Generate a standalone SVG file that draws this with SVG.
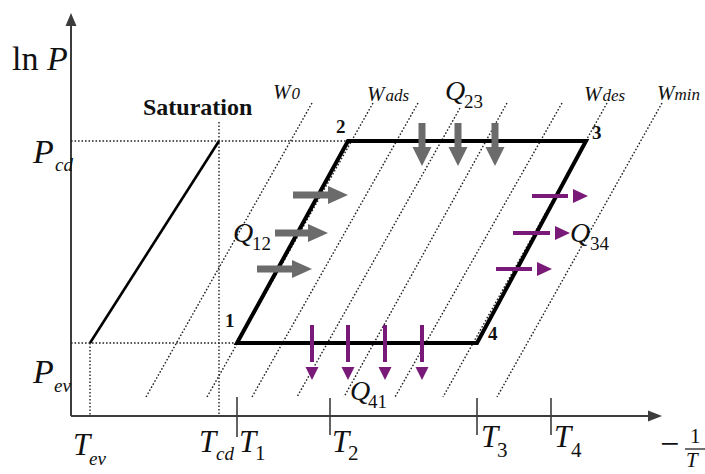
<svg xmlns="http://www.w3.org/2000/svg" width="705" height="474" viewBox="0 0 705 474">
<defs>
<style>
text{font-family:"Liberation Serif","Times New Roman",serif;fill:#111}
.it{font-style:italic}
.big{font-size:34px}
.tt{font-size:31px;font-style:italic}
.sub{font-size:19px}
.num{font-size:21px}
.w{font-size:21px;font-style:italic}
.ws{font-size:17px}
.q{font-size:28px;font-style:italic}
.qs{font-size:19px}
.pt{font-size:19px;font-weight:bold}
.axis{stroke:#3c3c3c;stroke-width:2;fill:none}
.dot{stroke:#222;stroke-width:1.4;stroke-dasharray:1.6 1.9;fill:none}
.cyc{stroke:#000;stroke-width:4;fill:none;stroke-linejoin:miter}
.sat{stroke:#000;stroke-width:2.6}
.tick{stroke:#3c3c3c;stroke-width:1.6}
.gs{stroke:#6b6b6b;stroke-width:7}
.gh{fill:#6b6b6b}
.ps{stroke:#7a1a78;stroke-width:4}
.ph{fill:#7a1a78}
</style>
</defs>
<rect width="705" height="474" fill="#fff"/>

<g id="axes">
<line class="axis" x1="71" y1="416" x2="71" y2="24"/>
<polygon points="71,13 65.5,26 76.5,26" fill="#3c3c3c"/>
<line class="axis" x1="71" y1="416" x2="650" y2="416"/>
<polygon points="662,416 648,410.5 648,421.5" fill="#3c3c3c"/>
<line class="tick" x1="237" y1="397" x2="237" y2="437"/>
<line class="tick" x1="330" y1="398" x2="330" y2="435"/>
<line class="tick" x1="477" y1="398" x2="477" y2="435"/>
<line class="tick" x1="551" y1="398" x2="551" y2="435"/>
</g>

<g id="guides">
<line class="dot" x1="71" y1="141" x2="348" y2="141"/>
<line class="dot" x1="71" y1="343" x2="237" y2="343"/>
<line class="dot" x1="90" y1="343" x2="90" y2="416"/>
<line class="dot" x1="219" y1="122" x2="219" y2="416"/>
</g>

<g id="isosteres">
<line class="dot" x1="312" y1="103" x2="146" y2="397"/>
<line class="dot" x1="373" y1="103" x2="207" y2="397"/>
<line class="dot" x1="418" y1="103" x2="252" y2="397"/>
<line class="dot" x1="460" y1="108" x2="297" y2="397"/>
<line class="dot" x1="507" y1="103" x2="344" y2="397"/>
<line class="dot" x1="562" y1="103" x2="395" y2="397"/>
<line class="dot" x1="607" y1="103" x2="443" y2="397"/>
<line class="dot" x1="662" y1="103" x2="497" y2="397"/>
</g>

<g id="saturation">
<line class="sat" x1="90" y1="343" x2="219" y2="141"/>
</g>

<g id="cycle">
<polygon class="cyc" points="237,343 348,141 586,141 477,343"/>
</g>

<g id="q12-arrows">
<line class="gs" x1="293" y1="195" x2="329" y2="195"/>
<polygon class="gh" points="348,195 328,186 328,204"/>
<line class="gs" x1="275" y1="233" x2="309" y2="233"/>
<polygon class="gh" points="328,233 308,224 308,242"/>
<line class="gs" x1="257" y1="269" x2="293" y2="269"/>
<polygon class="gh" points="312,269 292,260 292,278"/>
</g>

<g id="q23-arrows">
<line class="gs" x1="422" y1="123" x2="422" y2="148"/>
<polygon class="gh" points="422,166 412.5,147 431.5,147"/>
<line class="gs" x1="458" y1="123" x2="458" y2="148"/>
<polygon class="gh" points="458,166 448.5,147 467.5,147"/>
<line class="gs" x1="495" y1="123" x2="495" y2="148"/>
<polygon class="gh" points="495,166 485.5,147 504.5,147"/>
</g>

<g id="q34-arrows">
<line class="ps" x1="532" y1="196" x2="568" y2="196"/>
<polygon class="ph" points="588,196 573,189 573,203"/>
<line class="ps" x1="513" y1="233" x2="550" y2="233"/>
<polygon class="ph" points="570,233 555,226 555,240"/>
<line class="ps" x1="496" y1="269" x2="532" y2="269"/>
<polygon class="ph" points="552,269 537,262 537,276"/>
</g>

<g id="q41-arrows">
<line class="ps" x1="312" y1="325" x2="312" y2="362"/>
<polygon class="ph" points="312,380 305.5,367 318.5,367"/>
<line class="ps" x1="348" y1="325" x2="348" y2="362"/>
<polygon class="ph" points="348,380 341.5,367 354.5,367"/>
<line class="ps" x1="385" y1="325" x2="385" y2="362"/>
<polygon class="ph" points="385,380 378.5,367 391.5,367"/>
<line class="ps" x1="422" y1="325" x2="422" y2="362"/>
<polygon class="ph" points="422,380 415.5,367 428.5,367"/>
</g>

<g id="labels">
<text class="big" x="12" y="70">ln <tspan class="it">P</tspan></text>
<text class="big it" x="33" y="163">P</text><text class="sub it" x="55" y="171">cd</text>
<text class="big it" x="33" y="383">P</text><text class="sub it" x="54" y="392">ev</text>
<text class="tt" x="73" y="455">T</text><text class="sub it" x="89" y="465">ev</text>
<text class="tt" x="199" y="452">T</text><text class="sub it" x="216" y="460">cd</text>
<text class="tt" x="239" y="452">T</text><text class="num" x="255" y="460">1</text>
<text class="tt" x="332" y="452">T</text><text class="num" x="348" y="460">2</text>
<text class="tt" x="481" y="447">T</text><text class="num" x="497" y="457">3</text>
<text class="tt" x="554" y="447">T</text><text class="num" x="571" y="457">4</text>
<text class="big" x="660" y="455">−</text>
<text class="num" x="690" y="443">1</text>
<line x1="685" y1="449" x2="705" y2="449" stroke="#111" stroke-width="1.2"/>
<text class="it" x="686" y="467" style="font-size:21px">T</text>
<text x="143" y="115" style="font-size:24px;font-weight:bold">Saturation</text>
<text class="w" x="273" y="99">W<tspan class="ws" dx="1">0</tspan></text>
<text class="w" x="367" y="101">W<tspan class="ws" dx="1">ads</tspan></text>
<text class="w" x="584" y="101">W<tspan class="ws" dx="1">des</tspan></text>
<text class="w" x="657" y="100">W<tspan class="ws" dx="0">min</tspan></text>
<text class="q" x="445" y="100">Q</text><text class="qs" x="464" y="108">23</text>
<text class="q" x="233" y="242">Q</text><text class="qs" x="252" y="250">12</text>
<text class="q" x="570" y="242">Q</text><text class="qs" x="590" y="250">34</text>
<text class="q" x="350" y="400">Q</text><text class="qs" x="368" y="408">41</text>
<text class="pt" x="336" y="133">2</text>
<text class="pt" x="592" y="139">3</text>
<text class="pt" x="225" y="327">1</text>
<text class="pt" x="488" y="340">4</text>
</g>
</svg>
